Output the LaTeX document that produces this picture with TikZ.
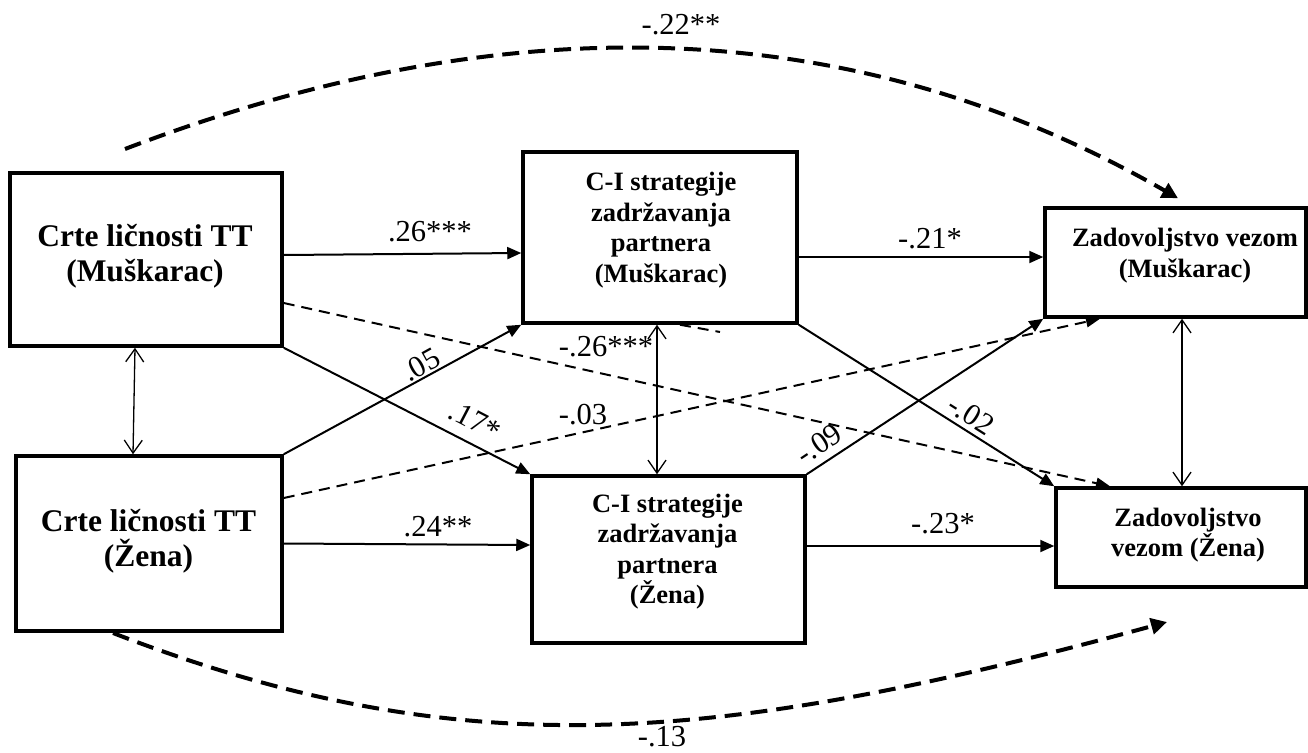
\documentclass[tikz,border=0pt]{standalone}
\usepackage{fontspec}
\setmainfont{Liberation Serif}
\usetikzlibrary{arrows.meta}
\begin{document}
\begin{tikzpicture}[x=1pt,y=-1pt,
  box/.style={draw, line width=3.5pt, inner sep=0pt},
  bigtxt/.style={align=center, inner sep=0pt, font=\bfseries\fontsize{31.5}{35}\selectfont},
  smalltxt/.style={align=center, inner sep=0pt, font=\bfseries\fontsize{26.5}{30.5}\selectfont},
  lbl/.style={inner sep=0pt, font=\fontsize{30.5}{32}\selectfont},
  arr/.style={line width=2pt, -{Triangle[length=14pt,width=12pt]}},
  dsh/.style={line width=2pt, dash pattern=on 11pt off 7pt, -{Triangle[length=14pt,width=11pt]}},
  stub/.style={line width=2pt, dash pattern=on 11pt off 7pt},
  bidir/.style={line width=1.3pt, {Straight Barb[length=13pt,width=18pt]}-{Straight Barb[length=13pt,width=18pt]}},
  bigcurve/.style={line width=4pt, dash pattern=on 17pt off 9pt, -{Triangle[length=16pt,width=16pt]}}
]
\useasboundingbox (0,0) rectangle (1308,752);
\fill[white] (0,0) rectangle (1308,752);

% boxes
\node[box, minimum width=272pt, minimum height=173pt] (A) at (146,259.5) {};
\node[box, minimum width=266pt, minimum height=175pt] (B) at (149,543.5) {};
\node[box, minimum width=274pt, minimum height=171pt] (C) at (660,237.5) {};
\node[box, minimum width=273pt, minimum height=167pt] (D) at (668.5,559.5) {};
\node[box, minimum width=261pt, minimum height=109pt] (ZM) at (1175.5,262.5) {};
\node[box, minimum width=250pt, minimum height=99pt] (ZZ) at (1181,537.5) {};

% box texts
\node[bigtxt] (tA) at (145,256.5) {Crte ličnosti TT\\(Muškarac)};
\node[bigtxt] (tB) at (148.5,541) {Crte ličnosti TT\\(Žena)};
\node[smalltxt] (tC) at (661,230) {C-I strategije\\zadržavanja\\partnera\\(Muškarac)};
\node[smalltxt] (tD) at (667.5,551.5) {C-I strategije\\zadržavanja\\partnera\\(Žena)};
\node[smalltxt] (tZM) at (1185,255.5) {Zadovoljstvo vezom\\(Muškarac)};
\node[smalltxt] (tZZ) at (1188,535) {Zadovoljstvo\\vezom (Žena)};

% free ends
\coordinate (topS) at (125,149);
\coordinate (botS) at (113,633);
\coordinate (botE) at (1167,622);
\coordinate (stubE) at (720,332);

% paths
\draw[arr] ([yshift=4.5pt]A.east) -- ([yshift=-15.5pt]C.west);
\draw[dsh] ([yshift=-43.5pt]A.east) -- ([xshift=-71pt]ZZ.north);
\draw[arr] (A.south east) -- (D.north west);
\draw[arr] (B.north east) -- (C.south west);
\draw[dsh] ([yshift=45.5pt]B.east) -- ([xshift=-75.5pt]ZM.south);
\draw[arr] (B.east) -- ([yshift=14.5pt]D.west);
\draw[arr] ([yshift=-19.5pt]C.east) -- ([yshift=5.5pt]ZM.west);
\draw[arr] (C.south east) -- (ZZ.north west);
\draw[arr] (D.north east) -- (ZM.south west);
\draw[arr] ([yshift=13.5pt]D.east) -- ([yshift=-8.5pt]ZZ.west);
\draw[stub] ([xshift=20pt]C.south) -- (stubE);

\draw[bidir] ([xshift=-11pt]A.south) -- ([xshift=-16pt]B.north);
\draw[bidir] ([xshift=-3pt]C.south) -- ([xshift=-11.5pt]D.north);
\draw[bidir] ([xshift=6.5pt]ZM.south) -- ([xshift=1pt]ZZ.north);

\draw[bigcurve] (topS) .. controls (500,6) and (848,9) .. ([xshift=2.5pt,yshift=8pt]ZM.north);
\draw[bigcurve] (botS) .. controls (463,768) and (717,745) .. (botE);

% labels
\node[lbl] (l1) at (430,232) {.26***};
\node[lbl] (l2) at (606,347) {-.26***};
\node[lbl, rotate=29] (l3) at (421,365) {.05};
\node[lbl, rotate=-27.5] (l4) at (475,421) {.17*};
\node[lbl] (l5) at (583,415) {-.03};
\node[lbl] (l6) at (438,527) {.24**};
\node[lbl] (l7) at (930,239) {-.21*};
\node[lbl] (l8) at (943,524) {-.23*};
\node[lbl, rotate=33.5] (l9) at (819,444) {-.09};
\node[lbl, rotate=-32.3] (l10) at (971,415) {-.02};
\node[lbl] (l11) at (681,25) {-.22**};
\node[lbl] (l12) at (662,737) {-.13};
\end{tikzpicture}
\end{document}
